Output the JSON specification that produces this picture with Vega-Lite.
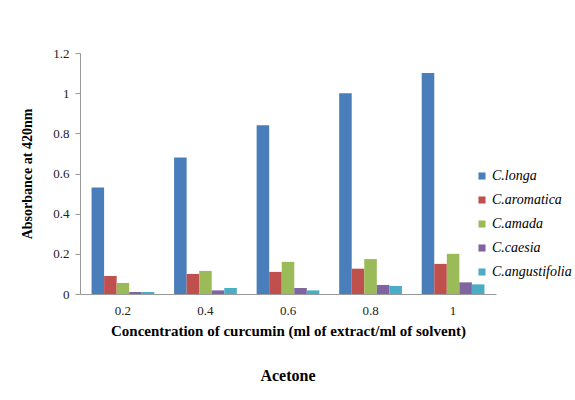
{
  "$schema": "https://vega.github.io/schema/vega-lite/v6.json",
  "width": 416,
  "height": 241,
  "autosize": {"type": "none"},
  "padding": {"left": 80, "top": 53, "right": 79, "bottom": 106},
  "background": "white",
  "data": {
    "values": [
      {"conc": "0.2", "species": "C.longa", "value": 0.53},
      {"conc": "0.2", "species": "C.aromatica", "value": 0.09},
      {"conc": "0.2", "species": "C.amada", "value": 0.055},
      {"conc": "0.2", "species": "C.caesia", "value": 0.01},
      {"conc": "0.2", "species": "C.angustifolia", "value": 0.01},
      {"conc": "0.4", "species": "C.longa", "value": 0.68},
      {"conc": "0.4", "species": "C.aromatica", "value": 0.1},
      {"conc": "0.4", "species": "C.amada", "value": 0.115},
      {"conc": "0.4", "species": "C.caesia", "value": 0.018},
      {"conc": "0.4", "species": "C.angustifolia", "value": 0.03},
      {"conc": "0.6", "species": "C.longa", "value": 0.84},
      {"conc": "0.6", "species": "C.aromatica", "value": 0.11},
      {"conc": "0.6", "species": "C.amada", "value": 0.16},
      {"conc": "0.6", "species": "C.caesia", "value": 0.03},
      {"conc": "0.6", "species": "C.angustifolia", "value": 0.018},
      {"conc": "0.8", "species": "C.longa", "value": 1.0},
      {"conc": "0.8", "species": "C.aromatica", "value": 0.126},
      {"conc": "0.8", "species": "C.amada", "value": 0.174},
      {"conc": "0.8", "species": "C.caesia", "value": 0.045},
      {"conc": "0.8", "species": "C.angustifolia", "value": 0.04},
      {"conc": "1", "species": "C.longa", "value": 1.1},
      {"conc": "1", "species": "C.aromatica", "value": 0.15},
      {"conc": "1", "species": "C.amada", "value": 0.2},
      {"conc": "1", "species": "C.caesia", "value": 0.058},
      {"conc": "1", "species": "C.angustifolia", "value": 0.048}
    ]
  },
  "title": {
    "text": "Acetone",
    "orient": "bottom",
    "anchor": "middle",
    "font": "Liberation Serif",
    "fontSize": 16,
    "fontWeight": "bold",
    "color": "#000000",
    "offset": 30
  },
  "mark": {"type": "bar"},
  "encoding": {
    "x": {
      "field": "conc",
      "type": "nominal",
      "sort": ["0.2", "0.4", "0.6", "0.8", "1"],
      "scale": {"paddingInner": 0.24, "paddingOuter": 0.14},
      "axis": {
        "title": "Concentration of curcumin (ml of extract/ml of solvent)",
        "labelAngle": 0,
        "ticks": false,
        "labelPadding": 10,
        "titlePadding": 6,
        "domainColor": "#999999",
        "labelFont": "Liberation Serif",
        "labelFontSize": 13,
        "labelColor": "#222222",
        "titleFont": "Liberation Serif",
        "titleFontSize": 15,
        "titleFontWeight": "bold",
        "titleColor": "#000000"
      }
    },
    "xOffset": {
      "field": "species",
      "type": "nominal",
      "sort": ["C.longa", "C.aromatica", "C.amada", "C.caesia", "C.angustifolia"],
      "scale": {"paddingInner": 0, "paddingOuter": 0}
    },
    "y": {
      "field": "value",
      "type": "quantitative",
      "scale": {"domain": [0, 1.2], "nice": false},
      "axis": {
        "title": "Absorbance at 420nm",
        "values": [0, 0.2, 0.4, 0.6, 0.8, 1, 1.2],
        "format": "~g",
        "grid": false,
        "tickSize": 5,
        "tickColor": "#999999",
        "domainColor": "#999999",
        "labelFont": "Liberation Serif",
        "labelFontSize": 13,
        "labelColor": "#222222",
        "labelPadding": 6,
        "titleFont": "Liberation Serif",
        "titleFontSize": 14,
        "titleFontWeight": "bold",
        "titleColor": "#000000",
        "titlePadding": 18
      }
    },
    "color": {
      "field": "species",
      "type": "nominal",
      "sort": ["C.longa", "C.aromatica", "C.amada", "C.caesia", "C.angustifolia"],
      "scale": {
        "domain": ["C.longa", "C.aromatica", "C.amada", "C.caesia", "C.angustifolia"],
        "range": ["#4A7EBB", "#C0504D", "#9BBB59", "#8064A2", "#4BACC6"]
      },
      "legend": {
        "title": null,
        "orient": "none",
        "legendX": 395,
        "legendY": 116,
        "symbolType": "square",
        "symbolSize": 50,
        "symbolStrokeWidth": 0,
        "rowPadding": 10,
        "labelOffset": 3,
        "labelFont": "Liberation Serif",
        "labelFontStyle": "italic",
        "labelFontSize": 14,
        "labelColor": "#000000"
      }
    }
  },
  "config": {
    "view": {"stroke": null}
  }
}
